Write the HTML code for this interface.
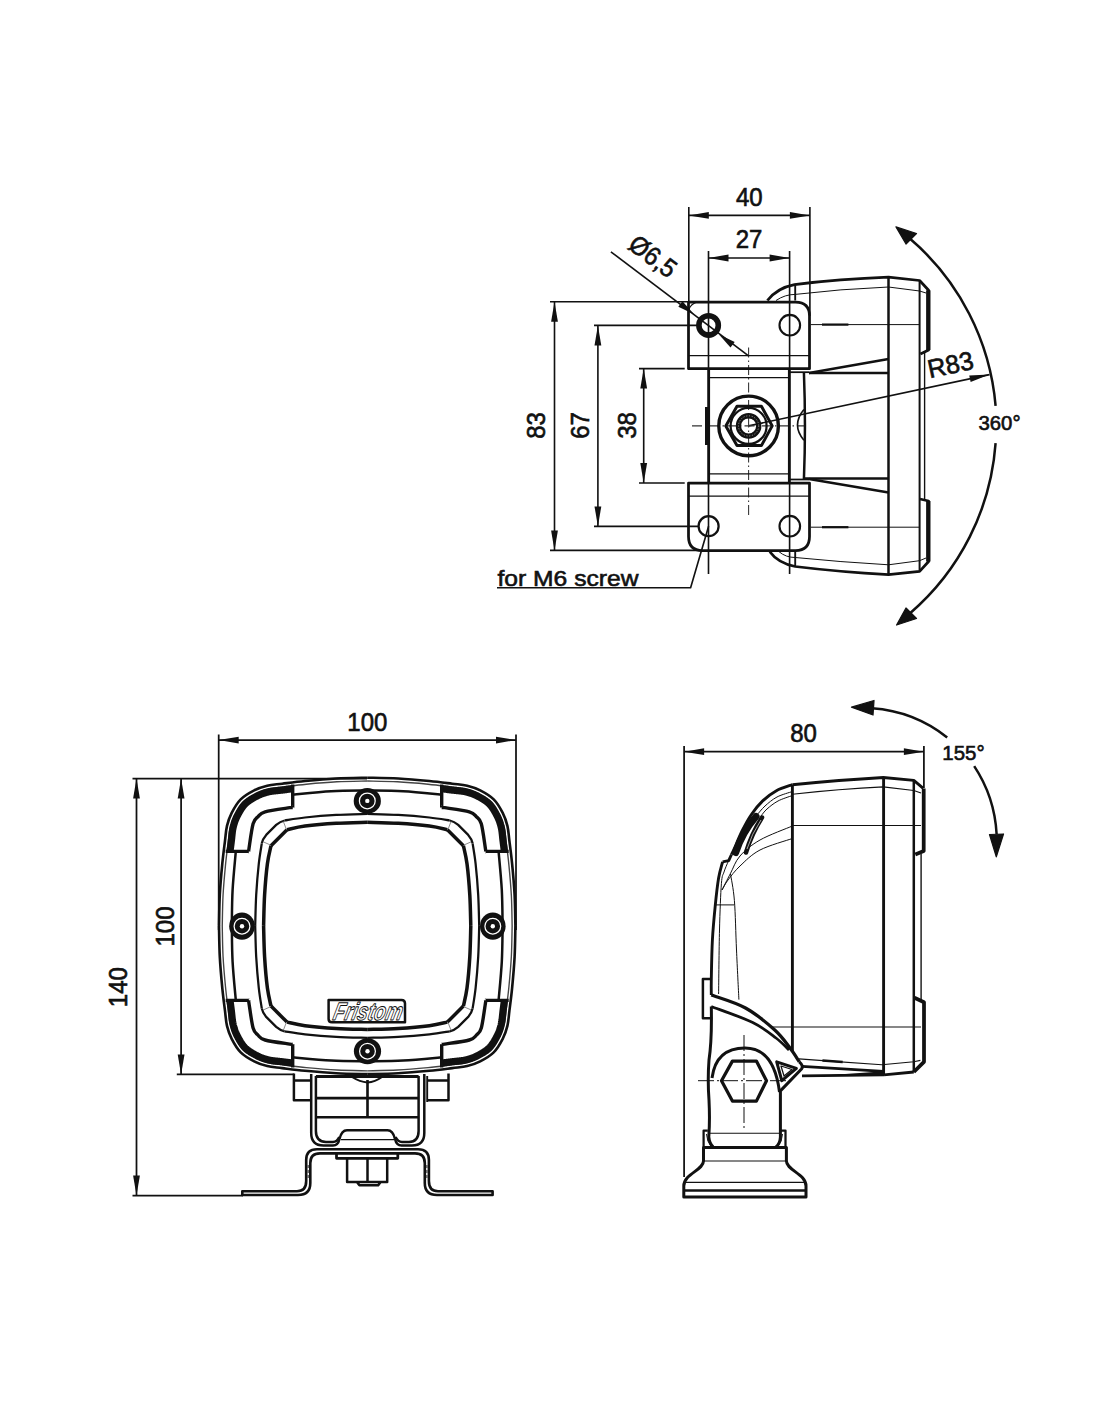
<!DOCTYPE html>
<html><head><meta charset="utf-8"><title>Drawing</title>
<style>
html,body{margin:0;padding:0;background:#fff;}
svg{display:block;}
text{font-family:"Liberation Sans",sans-serif;}
.t text{fill:#111;stroke:#111;stroke-width:0.6;}
</style></head><body>
<svg width="1100" height="1422" viewBox="0 0 1100 1422">
<defs>
<marker id="ar" markerUnits="userSpaceOnUse" viewBox="-21 -4 22 8" refX="0" refY="0" markerWidth="22" markerHeight="8" orient="auto-start-reverse"><path d="M0,0 L-20,-3.4 L-20,3.4 Z" fill="#111"/></marker>
</defs>
<rect width="1100" height="1422" fill="#fff"/>
<!-- ================= TOP VIEW ================= -->
<g id="top" fill="none" stroke="#111" stroke-linecap="butt" stroke-linejoin="round">
  <!-- dimension 40 -->
  <g stroke-width="1.62">
    <line x1="688.8" y1="207" x2="688.8" y2="302"/>
    <line x1="809.9" y1="207" x2="809.9" y2="316"/>
    <line x1="688.8" y1="215.4" x2="809.9" y2="215.4" marker-start="url(#ar)" marker-end="url(#ar)"/>
    <!-- 27 -->
    <line x1="708.5" y1="251" x2="708.5" y2="574"/>
    <line x1="789.6" y1="251" x2="789.6" y2="574"/>
    <line x1="708.5" y1="258" x2="789.6" y2="258" marker-start="url(#ar)" marker-end="url(#ar)"/>
    <!-- 83 -->
    <line x1="550" y1="301.8" x2="689" y2="301.8"/>
    <line x1="550" y1="550.4" x2="700" y2="550.4"/>
    <line x1="554.5" y1="301.8" x2="554.5" y2="550.4" marker-start="url(#ar)" marker-end="url(#ar)"/>
    <!-- 67 -->
    <line x1="594" y1="325.4" x2="699" y2="325.4"/>
    <line x1="594" y1="526.4" x2="699" y2="526.4"/>
    <line x1="597.9" y1="325.4" x2="597.9" y2="526.4" marker-start="url(#ar)" marker-end="url(#ar)"/>
    <!-- 38 -->
    <line x1="639" y1="368.6" x2="684.7" y2="368.6"/>
    <line x1="639" y1="483" x2="684.7" y2="483"/>
    <line x1="643.7" y1="368.6" x2="643.7" y2="483" marker-start="url(#ar)" marker-end="url(#ar)"/>
    <!-- for M6 screw leader -->
    <polyline points="497,587.8 690.6,587.8 708.6,526.2"/>
    <!-- diameter leader -->
    <line x1="610.9" y1="251.8" x2="748.9" y2="356.1"/>
    <!-- R83 leader -->
    <line x1="748.6" y1="425.9" x2="989.5" y2="374.6" marker-end="url(#ar)"/>
  </g>
  <path d="M0,0" />
  <!-- diameter arrows -->
  <path d="M694,314.2 L678.35,306.66 L682.45,301.24 Z" fill="#111" stroke="none"/>
  <path d="M719,334.5 L730.5,347.6 L734.7,342.0 Z" fill="#111" stroke="none"/>

  <!-- 360 arc -->
  <path d="M909.8,238.5 A248,248 0 0 1 995.6,405.8" stroke-width="2.50"/>
  <path d="M995.6,443.2 A248,248 0 0 1 909.8,613.5" stroke-width="2.50"/>
  <path d="M896,226.9 L916.5,233.5 L906,244 Z" fill="#111" stroke="#111" stroke-width="1.25"/>
  <path d="M896.6,625 L906,608 L916.5,618.5 Z" fill="#111" stroke="#111" stroke-width="1.25"/>

  <!-- center lines (dash-dot) -->
  <g stroke-width="1.06" stroke="#333">
    <line x1="748.6" y1="347.5" x2="748.6" y2="518" stroke-dasharray="10,3,1.5,3"/>
    <line x1="692" y1="425.9" x2="804" y2="425.9" stroke-dasharray="10,3,1.5,3"/>
  </g>

  <!-- top plate -->
  <path d="M688.5,368.7 L688.5,302 L795.5,302 Q809.5,302 809.5,316 L809.5,368.7 Z" stroke-width="2.75"/>
  <path d="M697,302 Q691,304 689,309" stroke-width="1.12"/>
  <line x1="688.5" y1="355.7" x2="809.5" y2="355.7" stroke-width="1.25"/>
  <circle cx="708.6" cy="325.4" r="9.7" stroke-width="5.62"/>
  <circle cx="789.8" cy="325.2" r="10.3" stroke-width="2.12"/>
  <!-- bottom plate -->
  <path d="M688.5,483 L809.5,483 L809.5,536.5 Q809.5,550.5 795.5,550.5 L702.5,550.5 Q688.5,550.5 688.5,536.5 Z" stroke-width="2.75"/>
  <line x1="688.5" y1="496.2" x2="809.5" y2="496.2" stroke-width="1.25"/>
  <circle cx="708.6" cy="526.2" r="10" stroke-width="2.25"/>
  <circle cx="789.8" cy="526.2" r="10.3" stroke-width="2.12"/>

  <!-- body -->
  <line x1="708.7" y1="368.7" x2="708.7" y2="483" stroke-width="2.75"/>
  <line x1="789.3" y1="368.7" x2="789.3" y2="483" stroke-width="2.75"/>
  <line x1="708.7" y1="377.7" x2="789.3" y2="377.7" stroke-width="1.25"/>
  <line x1="708.7" y1="473.9" x2="789.3" y2="473.9" stroke-width="1.25"/>
  <line x1="706.6" y1="407" x2="706.6" y2="445" stroke-width="3.25"/>
  <path d="M803.9,372 Q806,426 803.9,480" stroke-width="2.50"/>
  <path d="M803.9,409.5 Q791.1,425 803.9,440.2" stroke-width="1.62"/>
  <line x1="789.3" y1="372.2" x2="809" y2="372.2" stroke-width="1.75"/>
  <line x1="789.3" y1="479.5" x2="809" y2="479.5" stroke-width="1.75"/>

  <!-- nut -->
  <circle cx="748.6" cy="425.9" r="29.8" stroke-width="3.38"/>
  <polygon points="725.8,425.9 737,406.2 761.4,406.2 772.2,425.9 761.4,445.6 737,445.6" stroke-width="3.00"/>
  <circle cx="748.6" cy="425.9" r="18.0" stroke-width="2.25"/>
  <circle cx="748.6" cy="425.9" r="10.15" stroke-width="5.31"/>
  <circle cx="748.6" cy="425.9" r="10.1" stroke-width="0.50" stroke="#fff" stroke-dasharray="1.2,1.6"/>

  <!-- housing -->
  <path d="M767.4,300.5 Q777,288 794.4,284.6 Q840,279 888.5,277.2 L919.6,280.5 L928.6,290.3 L928.6,350 L920.4,354" stroke-width="2.75"/>
  <path d="M769.8,551.7 Q778,563 795.2,566.5 Q840,572 888.5,574.6 L919.6,571.4 L928.6,561.5 L928.6,501 L920,499" stroke-width="2.75"/>
  <line x1="795.2" y1="284.6" x2="795.2" y2="300.5" stroke-width="1.88"/>
  <line x1="795.2" y1="551.7" x2="795.2" y2="566.5" stroke-width="1.88"/>
  <line x1="888.5" y1="277.2" x2="888.5" y2="574.6" stroke-width="2.50"/>
  <line x1="919.6" y1="280.5" x2="919.6" y2="571.4" stroke-width="2.00"/>
  <line x1="924.6" y1="353" x2="924.6" y2="500" stroke-width="1.38"/>
  <line x1="928.3" y1="290.3" x2="928.3" y2="350" stroke-width="4.38"/>
  <line x1="928.3" y1="501" x2="928.3" y2="561.5" stroke-width="4.38"/>
  <path d="M776,300.5 Q785,294.4 795.2,294.4 Q840,289 888.5,287 L919.6,291 L926,293" stroke-width="1.00"/>
  <path d="M779,551.7 Q786,557.5 795.2,557.5 Q840,562 888.5,564.8 L919.6,560.7 L926,558" stroke-width="1.00"/>
  <line x1="810.7" y1="324.6" x2="919.6" y2="324.6" stroke-width="1.00"/>
  <line x1="822" y1="324.6" x2="848.4" y2="324.6" stroke-width="2.25"/>
  <line x1="810.7" y1="527.2" x2="919.6" y2="527.2" stroke-width="1.00"/>
  <line x1="822" y1="527.2" x2="848.4" y2="527.2" stroke-width="2.25"/>
  <!-- bracket arms -->
  <line x1="809" y1="372.9" x2="888.5" y2="372.9" stroke-width="2.50"/>
  <line x1="809" y1="372.9" x2="888.5" y2="359" stroke-width="2.50"/>
  <line x1="803.9" y1="478.4" x2="888.5" y2="478.4" stroke-width="2.50"/>
  <line x1="809" y1="479" x2="888.5" y2="492.5" stroke-width="2.50"/>
</g>



<g id="front" fill="none" stroke="#111" stroke-linejoin="round">
<g transform="translate(367.2,925.9) scale(1,1)"><path d="M0.00,-148.20 C-5.17,-148.07 -20.63,-147.95 -31.00,-147.40 C-41.37,-146.85 -53.20,-145.77 -62.20,-144.90 C-71.20,-144.03 -78.70,-142.98 -85.00,-142.20 C-91.30,-141.42 -95.33,-141.32 -100.00,-140.20 C-104.67,-139.08 -108.58,-137.78 -113.00,-135.50 C-117.42,-133.22 -122.75,-130.25 -126.50,-126.50 C-130.25,-122.75 -133.22,-117.42 -135.50,-113.00 C-137.78,-108.58 -139.08,-104.67 -140.20,-100.00 C-141.32,-95.33 -141.42,-91.30 -142.20,-85.00 C-142.98,-78.70 -144.03,-71.20 -144.90,-62.20 C-145.77,-53.20 -146.85,-41.37 -147.40,-31.00 C-147.95,-20.63 -148.07,-5.17 -148.20,0.00" stroke-width="2.62"/>
<path d="M0.00,-144.94 C-5.05,-144.81 -20.18,-144.70 -30.32,-144.16 C-40.46,-143.62 -52.03,-142.56 -60.83,-141.71 C-69.63,-140.86 -76.97,-139.84 -83.13,-139.07 C-89.29,-138.31 -93.24,-138.21 -97.80,-137.12 C-102.36,-136.02 -106.19,-134.75 -110.51,-132.52 C-114.83,-130.29 -120.05,-127.38 -123.72,-123.72 C-127.38,-120.05 -130.29,-114.83 -132.52,-110.51 C-134.75,-106.19 -136.02,-102.36 -137.12,-97.80 C-138.21,-93.24 -138.31,-89.29 -139.07,-83.13 C-139.84,-76.97 -140.86,-69.63 -141.71,-60.83 C-142.56,-52.03 -143.62,-40.46 -144.16,-30.32 C-144.70,-20.18 -144.81,-5.05 -144.94,0.00" stroke-width="1.38" stroke="#444"/>
<path d="M-73.84,-137.27 L-74.59,-137.17 L-75.32,-137.08 L-76.05,-136.99 L-76.78,-136.90 L-77.49,-136.81 L-78.20,-136.72 L-78.90,-136.63 L-79.59,-136.54 L-80.27,-136.45 L-80.95,-136.36 L-81.62,-136.28 L-82.28,-136.19 L-82.93,-136.11 L-83.58,-136.03 L-84.23,-135.95 L-84.87,-135.87 L-85.50,-135.79 L-86.12,-135.72 L-86.72,-135.66 L-87.30,-135.59 L-87.87,-135.53 L-88.43,-135.47 L-88.97,-135.42 L-89.50,-135.37 L-90.02,-135.31 L-90.52,-135.26 L-91.01,-135.21 L-91.49,-135.16 L-91.96,-135.11 L-92.42,-135.06 L-92.87,-135.01 L-93.31,-134.96 L-93.74,-134.91 L-94.16,-134.86 L-94.58,-134.80 L-94.99,-134.74 L-95.39,-134.68 L-95.79,-134.62 L-96.19,-134.55 L-96.58,-134.48 L-96.97,-134.41 L-97.36,-134.33 L-97.75,-134.25 L-98.14,-134.16 L-98.54,-134.07 L-98.97,-133.97 L-99.39,-133.86 L-99.81,-133.76 L-100.23,-133.65 L-100.64,-133.54 L-101.04,-133.43 L-101.44,-133.32 L-101.83,-133.20 L-102.22,-133.09 L-102.61,-132.97 L-102.99,-132.85 L-103.37,-132.73 L-103.74,-132.61 L-104.12,-132.48 L-104.49,-132.35 L-104.86,-132.22 L-105.23,-132.08 L-105.59,-131.94 L-105.96,-131.80 L-106.33,-131.65 L-106.70,-131.50 L-107.07,-131.34 L-107.44,-131.18 L-107.81,-131.01 L-108.19,-130.84 L-108.56,-130.67 L-108.94,-130.49 L-109.33,-130.30 L-109.72,-130.10 L-110.12,-129.90 L-110.54,-129.68 L-110.97,-129.46 L-111.40,-129.23 L-111.84,-128.99 L-112.28,-128.76 L-112.72,-128.52 L-113.16,-128.28 L-113.60,-128.03 L-114.04,-127.78 L-114.47,-127.53 L-114.91,-127.28 L-115.34,-127.02 L-115.77,-126.76 L-116.20,-126.50 L-116.62,-126.23 L-117.04,-125.96 L-117.45,-125.69 L-117.86,-125.42 L-118.26,-125.15 L-118.65,-124.87 L-119.03,-124.59 L-119.41,-124.31 L-119.78,-124.03 L-120.13,-123.75 L-120.48,-123.46 L-120.82,-123.18 L-121.14,-122.89 L-121.46,-122.61 L-121.76,-122.33 L-122.05,-122.05 L-122.33,-121.76 L-122.61,-121.46 L-122.89,-121.14 L-123.18,-120.82 L-123.46,-120.48 L-123.75,-120.13 L-124.03,-119.78 L-124.31,-119.41 L-124.59,-119.03 L-124.87,-118.65 L-125.15,-118.26 L-125.42,-117.86 L-125.69,-117.45 L-125.96,-117.04 L-126.23,-116.62 L-126.50,-116.20 L-126.76,-115.77 L-127.02,-115.34 L-127.28,-114.91 L-127.53,-114.47 L-127.78,-114.04 L-128.03,-113.60 L-128.28,-113.16 L-128.52,-112.72 L-128.76,-112.28 L-128.99,-111.84 L-129.23,-111.40 L-129.46,-110.97 L-129.68,-110.54 L-129.90,-110.12 L-130.10,-109.72 L-130.30,-109.33 L-130.49,-108.94 L-130.67,-108.56 L-130.84,-108.19 L-131.01,-107.81 L-131.18,-107.44 L-131.34,-107.07 L-131.50,-106.70 L-131.65,-106.33 L-131.80,-105.96 L-131.94,-105.59 L-132.08,-105.23 L-132.22,-104.86 L-132.35,-104.49 L-132.48,-104.12 L-132.61,-103.74 L-132.73,-103.37 L-132.85,-102.99 L-132.97,-102.61 L-133.09,-102.22 L-133.20,-101.83 L-133.32,-101.44 L-133.43,-101.04 L-133.54,-100.64 L-133.65,-100.23 L-133.76,-99.81 L-133.86,-99.39 L-133.97,-98.97 L-134.07,-98.54 L-134.16,-98.14 L-134.25,-97.75 L-134.33,-97.36 L-134.41,-96.97 L-134.48,-96.58 L-134.55,-96.19 L-134.62,-95.79 L-134.68,-95.39 L-134.74,-94.99 L-134.80,-94.58 L-134.86,-94.16 L-134.91,-93.74 L-134.96,-93.31 L-135.01,-92.87 L-135.06,-92.42 L-135.11,-91.96 L-135.16,-91.49 L-135.21,-91.01 L-135.26,-90.52 L-135.31,-90.02 L-135.37,-89.50 L-135.42,-88.97 L-135.47,-88.43 L-135.53,-87.87 L-135.59,-87.30 L-135.66,-86.72 L-135.72,-86.12 L-135.79,-85.50 L-135.87,-84.87 L-135.95,-84.23 L-136.03,-83.58 L-136.11,-82.93 L-136.19,-82.28 L-136.28,-81.62 L-136.36,-80.95 L-136.45,-80.27 L-136.54,-79.59 L-136.63,-78.90 L-136.72,-78.20 L-136.81,-77.49 L-136.90,-76.78 L-136.99,-76.05 L-137.08,-75.32 L-137.17,-74.59 L-137.27,-73.84" stroke-width="7.25"/>
<path d="M-74.50,-141.50 L-74.50,-118.40 M-74.50,-118.40 C-75.00,-118.37 -72.90,-118.92 -77.50,-118.20 C-82.10,-117.48 -96.82,-115.60 -102.10,-114.10 C-107.38,-112.60 -107.20,-111.20 -109.20,-109.20 C-111.20,-107.20 -112.60,-107.38 -114.10,-102.10 C-115.60,-96.82 -117.48,-82.10 -118.20,-77.50 C-118.92,-72.90 -118.37,-75.00 -118.40,-74.50 M-118.40,-74.50 L-141.50,-74.50" stroke-width="3.38"/>
<path d="M-75.50,-131.30 C-68.92,-131.85 -48.58,-133.92 -36.00,-134.60 C-23.42,-135.28 -6.00,-135.27 0.00,-135.40" stroke-width="2.50"/>
<path d="M-131.30,-75.50 C-131.85,-68.92 -133.92,-48.58 -134.60,-36.00 C-135.28,-23.42 -135.27,-6.00 -135.40,0.00" stroke-width="2.50"/>
<path d="M0.00,-112.00 C-5.17,-111.83 -20.63,-111.60 -31.00,-111.00 C-41.37,-110.40 -53.60,-109.33 -62.20,-108.40 C-70.80,-107.47 -79.20,-105.90 -82.60,-105.40" stroke-width="2.25"/>
<path d="M-105.40,-82.60 C-105.90,-79.20 -107.47,-70.80 -108.40,-62.20 C-109.33,-53.60 -110.40,-41.37 -111.00,-31.00 C-111.60,-20.63 -111.83,-5.17 -112.00,0.00" stroke-width="2.25"/>
<path d="M-82.6,-105.4 Q-87,-104.5 -91,-101 L-101,-91 Q-104.5,-87 -105.4,-82.6" stroke-width="2.25"/>
<path d="M0.00,-103.60 C-5.17,-103.43 -20.63,-103.23 -31.00,-102.60 C-41.37,-101.97 -54.00,-100.87 -62.20,-99.80 C-70.40,-98.73 -77.20,-96.80 -80.20,-96.20" stroke-width="3.50"/>
<path d="M-96.20,-80.20 C-96.80,-77.20 -98.73,-70.40 -99.80,-62.20 C-100.87,-54.00 -101.97,-41.37 -102.60,-31.00 C-103.23,-20.63 -103.43,-5.17 -103.60,0.00" stroke-width="3.50"/>
<path d="M-80.2,-96.2 L-96.2,-80.2" stroke-width="3.50"/>
<path d="M-84,-104.8 L-81,-97 M-103.8,-84 L-97,-81" stroke-width="0.75" stroke="#666"/></g>
<g transform="translate(367.2,925.9) scale(-1,1)"><path d="M0.00,-148.20 C-5.17,-148.07 -20.63,-147.95 -31.00,-147.40 C-41.37,-146.85 -53.20,-145.77 -62.20,-144.90 C-71.20,-144.03 -78.70,-142.98 -85.00,-142.20 C-91.30,-141.42 -95.33,-141.32 -100.00,-140.20 C-104.67,-139.08 -108.58,-137.78 -113.00,-135.50 C-117.42,-133.22 -122.75,-130.25 -126.50,-126.50 C-130.25,-122.75 -133.22,-117.42 -135.50,-113.00 C-137.78,-108.58 -139.08,-104.67 -140.20,-100.00 C-141.32,-95.33 -141.42,-91.30 -142.20,-85.00 C-142.98,-78.70 -144.03,-71.20 -144.90,-62.20 C-145.77,-53.20 -146.85,-41.37 -147.40,-31.00 C-147.95,-20.63 -148.07,-5.17 -148.20,0.00" stroke-width="2.62"/>
<path d="M0.00,-144.94 C-5.05,-144.81 -20.18,-144.70 -30.32,-144.16 C-40.46,-143.62 -52.03,-142.56 -60.83,-141.71 C-69.63,-140.86 -76.97,-139.84 -83.13,-139.07 C-89.29,-138.31 -93.24,-138.21 -97.80,-137.12 C-102.36,-136.02 -106.19,-134.75 -110.51,-132.52 C-114.83,-130.29 -120.05,-127.38 -123.72,-123.72 C-127.38,-120.05 -130.29,-114.83 -132.52,-110.51 C-134.75,-106.19 -136.02,-102.36 -137.12,-97.80 C-138.21,-93.24 -138.31,-89.29 -139.07,-83.13 C-139.84,-76.97 -140.86,-69.63 -141.71,-60.83 C-142.56,-52.03 -143.62,-40.46 -144.16,-30.32 C-144.70,-20.18 -144.81,-5.05 -144.94,0.00" stroke-width="1.38" stroke="#444"/>
<path d="M-73.84,-137.27 L-74.59,-137.17 L-75.32,-137.08 L-76.05,-136.99 L-76.78,-136.90 L-77.49,-136.81 L-78.20,-136.72 L-78.90,-136.63 L-79.59,-136.54 L-80.27,-136.45 L-80.95,-136.36 L-81.62,-136.28 L-82.28,-136.19 L-82.93,-136.11 L-83.58,-136.03 L-84.23,-135.95 L-84.87,-135.87 L-85.50,-135.79 L-86.12,-135.72 L-86.72,-135.66 L-87.30,-135.59 L-87.87,-135.53 L-88.43,-135.47 L-88.97,-135.42 L-89.50,-135.37 L-90.02,-135.31 L-90.52,-135.26 L-91.01,-135.21 L-91.49,-135.16 L-91.96,-135.11 L-92.42,-135.06 L-92.87,-135.01 L-93.31,-134.96 L-93.74,-134.91 L-94.16,-134.86 L-94.58,-134.80 L-94.99,-134.74 L-95.39,-134.68 L-95.79,-134.62 L-96.19,-134.55 L-96.58,-134.48 L-96.97,-134.41 L-97.36,-134.33 L-97.75,-134.25 L-98.14,-134.16 L-98.54,-134.07 L-98.97,-133.97 L-99.39,-133.86 L-99.81,-133.76 L-100.23,-133.65 L-100.64,-133.54 L-101.04,-133.43 L-101.44,-133.32 L-101.83,-133.20 L-102.22,-133.09 L-102.61,-132.97 L-102.99,-132.85 L-103.37,-132.73 L-103.74,-132.61 L-104.12,-132.48 L-104.49,-132.35 L-104.86,-132.22 L-105.23,-132.08 L-105.59,-131.94 L-105.96,-131.80 L-106.33,-131.65 L-106.70,-131.50 L-107.07,-131.34 L-107.44,-131.18 L-107.81,-131.01 L-108.19,-130.84 L-108.56,-130.67 L-108.94,-130.49 L-109.33,-130.30 L-109.72,-130.10 L-110.12,-129.90 L-110.54,-129.68 L-110.97,-129.46 L-111.40,-129.23 L-111.84,-128.99 L-112.28,-128.76 L-112.72,-128.52 L-113.16,-128.28 L-113.60,-128.03 L-114.04,-127.78 L-114.47,-127.53 L-114.91,-127.28 L-115.34,-127.02 L-115.77,-126.76 L-116.20,-126.50 L-116.62,-126.23 L-117.04,-125.96 L-117.45,-125.69 L-117.86,-125.42 L-118.26,-125.15 L-118.65,-124.87 L-119.03,-124.59 L-119.41,-124.31 L-119.78,-124.03 L-120.13,-123.75 L-120.48,-123.46 L-120.82,-123.18 L-121.14,-122.89 L-121.46,-122.61 L-121.76,-122.33 L-122.05,-122.05 L-122.33,-121.76 L-122.61,-121.46 L-122.89,-121.14 L-123.18,-120.82 L-123.46,-120.48 L-123.75,-120.13 L-124.03,-119.78 L-124.31,-119.41 L-124.59,-119.03 L-124.87,-118.65 L-125.15,-118.26 L-125.42,-117.86 L-125.69,-117.45 L-125.96,-117.04 L-126.23,-116.62 L-126.50,-116.20 L-126.76,-115.77 L-127.02,-115.34 L-127.28,-114.91 L-127.53,-114.47 L-127.78,-114.04 L-128.03,-113.60 L-128.28,-113.16 L-128.52,-112.72 L-128.76,-112.28 L-128.99,-111.84 L-129.23,-111.40 L-129.46,-110.97 L-129.68,-110.54 L-129.90,-110.12 L-130.10,-109.72 L-130.30,-109.33 L-130.49,-108.94 L-130.67,-108.56 L-130.84,-108.19 L-131.01,-107.81 L-131.18,-107.44 L-131.34,-107.07 L-131.50,-106.70 L-131.65,-106.33 L-131.80,-105.96 L-131.94,-105.59 L-132.08,-105.23 L-132.22,-104.86 L-132.35,-104.49 L-132.48,-104.12 L-132.61,-103.74 L-132.73,-103.37 L-132.85,-102.99 L-132.97,-102.61 L-133.09,-102.22 L-133.20,-101.83 L-133.32,-101.44 L-133.43,-101.04 L-133.54,-100.64 L-133.65,-100.23 L-133.76,-99.81 L-133.86,-99.39 L-133.97,-98.97 L-134.07,-98.54 L-134.16,-98.14 L-134.25,-97.75 L-134.33,-97.36 L-134.41,-96.97 L-134.48,-96.58 L-134.55,-96.19 L-134.62,-95.79 L-134.68,-95.39 L-134.74,-94.99 L-134.80,-94.58 L-134.86,-94.16 L-134.91,-93.74 L-134.96,-93.31 L-135.01,-92.87 L-135.06,-92.42 L-135.11,-91.96 L-135.16,-91.49 L-135.21,-91.01 L-135.26,-90.52 L-135.31,-90.02 L-135.37,-89.50 L-135.42,-88.97 L-135.47,-88.43 L-135.53,-87.87 L-135.59,-87.30 L-135.66,-86.72 L-135.72,-86.12 L-135.79,-85.50 L-135.87,-84.87 L-135.95,-84.23 L-136.03,-83.58 L-136.11,-82.93 L-136.19,-82.28 L-136.28,-81.62 L-136.36,-80.95 L-136.45,-80.27 L-136.54,-79.59 L-136.63,-78.90 L-136.72,-78.20 L-136.81,-77.49 L-136.90,-76.78 L-136.99,-76.05 L-137.08,-75.32 L-137.17,-74.59 L-137.27,-73.84" stroke-width="7.25"/>
<path d="M-74.50,-141.50 L-74.50,-118.40 M-74.50,-118.40 C-75.00,-118.37 -72.90,-118.92 -77.50,-118.20 C-82.10,-117.48 -96.82,-115.60 -102.10,-114.10 C-107.38,-112.60 -107.20,-111.20 -109.20,-109.20 C-111.20,-107.20 -112.60,-107.38 -114.10,-102.10 C-115.60,-96.82 -117.48,-82.10 -118.20,-77.50 C-118.92,-72.90 -118.37,-75.00 -118.40,-74.50 M-118.40,-74.50 L-141.50,-74.50" stroke-width="3.38"/>
<path d="M-75.50,-131.30 C-68.92,-131.85 -48.58,-133.92 -36.00,-134.60 C-23.42,-135.28 -6.00,-135.27 0.00,-135.40" stroke-width="2.50"/>
<path d="M-131.30,-75.50 C-131.85,-68.92 -133.92,-48.58 -134.60,-36.00 C-135.28,-23.42 -135.27,-6.00 -135.40,0.00" stroke-width="2.50"/>
<path d="M0.00,-112.00 C-5.17,-111.83 -20.63,-111.60 -31.00,-111.00 C-41.37,-110.40 -53.60,-109.33 -62.20,-108.40 C-70.80,-107.47 -79.20,-105.90 -82.60,-105.40" stroke-width="2.25"/>
<path d="M-105.40,-82.60 C-105.90,-79.20 -107.47,-70.80 -108.40,-62.20 C-109.33,-53.60 -110.40,-41.37 -111.00,-31.00 C-111.60,-20.63 -111.83,-5.17 -112.00,0.00" stroke-width="2.25"/>
<path d="M-82.6,-105.4 Q-87,-104.5 -91,-101 L-101,-91 Q-104.5,-87 -105.4,-82.6" stroke-width="2.25"/>
<path d="M0.00,-103.60 C-5.17,-103.43 -20.63,-103.23 -31.00,-102.60 C-41.37,-101.97 -54.00,-100.87 -62.20,-99.80 C-70.40,-98.73 -77.20,-96.80 -80.20,-96.20" stroke-width="3.50"/>
<path d="M-96.20,-80.20 C-96.80,-77.20 -98.73,-70.40 -99.80,-62.20 C-100.87,-54.00 -101.97,-41.37 -102.60,-31.00 C-103.23,-20.63 -103.43,-5.17 -103.60,0.00" stroke-width="3.50"/>
<path d="M-80.2,-96.2 L-96.2,-80.2" stroke-width="3.50"/>
<path d="M-84,-104.8 L-81,-97 M-103.8,-84 L-97,-81" stroke-width="0.75" stroke="#666"/></g>
<g transform="translate(367.2,925.9) scale(1,-1)"><path d="M0.00,-148.20 C-5.17,-148.07 -20.63,-147.95 -31.00,-147.40 C-41.37,-146.85 -53.20,-145.77 -62.20,-144.90 C-71.20,-144.03 -78.70,-142.98 -85.00,-142.20 C-91.30,-141.42 -95.33,-141.32 -100.00,-140.20 C-104.67,-139.08 -108.58,-137.78 -113.00,-135.50 C-117.42,-133.22 -122.75,-130.25 -126.50,-126.50 C-130.25,-122.75 -133.22,-117.42 -135.50,-113.00 C-137.78,-108.58 -139.08,-104.67 -140.20,-100.00 C-141.32,-95.33 -141.42,-91.30 -142.20,-85.00 C-142.98,-78.70 -144.03,-71.20 -144.90,-62.20 C-145.77,-53.20 -146.85,-41.37 -147.40,-31.00 C-147.95,-20.63 -148.07,-5.17 -148.20,0.00" stroke-width="2.62"/>
<path d="M0.00,-144.94 C-5.05,-144.81 -20.18,-144.70 -30.32,-144.16 C-40.46,-143.62 -52.03,-142.56 -60.83,-141.71 C-69.63,-140.86 -76.97,-139.84 -83.13,-139.07 C-89.29,-138.31 -93.24,-138.21 -97.80,-137.12 C-102.36,-136.02 -106.19,-134.75 -110.51,-132.52 C-114.83,-130.29 -120.05,-127.38 -123.72,-123.72 C-127.38,-120.05 -130.29,-114.83 -132.52,-110.51 C-134.75,-106.19 -136.02,-102.36 -137.12,-97.80 C-138.21,-93.24 -138.31,-89.29 -139.07,-83.13 C-139.84,-76.97 -140.86,-69.63 -141.71,-60.83 C-142.56,-52.03 -143.62,-40.46 -144.16,-30.32 C-144.70,-20.18 -144.81,-5.05 -144.94,0.00" stroke-width="1.38" stroke="#444"/>
<path d="M-73.84,-137.27 L-74.59,-137.17 L-75.32,-137.08 L-76.05,-136.99 L-76.78,-136.90 L-77.49,-136.81 L-78.20,-136.72 L-78.90,-136.63 L-79.59,-136.54 L-80.27,-136.45 L-80.95,-136.36 L-81.62,-136.28 L-82.28,-136.19 L-82.93,-136.11 L-83.58,-136.03 L-84.23,-135.95 L-84.87,-135.87 L-85.50,-135.79 L-86.12,-135.72 L-86.72,-135.66 L-87.30,-135.59 L-87.87,-135.53 L-88.43,-135.47 L-88.97,-135.42 L-89.50,-135.37 L-90.02,-135.31 L-90.52,-135.26 L-91.01,-135.21 L-91.49,-135.16 L-91.96,-135.11 L-92.42,-135.06 L-92.87,-135.01 L-93.31,-134.96 L-93.74,-134.91 L-94.16,-134.86 L-94.58,-134.80 L-94.99,-134.74 L-95.39,-134.68 L-95.79,-134.62 L-96.19,-134.55 L-96.58,-134.48 L-96.97,-134.41 L-97.36,-134.33 L-97.75,-134.25 L-98.14,-134.16 L-98.54,-134.07 L-98.97,-133.97 L-99.39,-133.86 L-99.81,-133.76 L-100.23,-133.65 L-100.64,-133.54 L-101.04,-133.43 L-101.44,-133.32 L-101.83,-133.20 L-102.22,-133.09 L-102.61,-132.97 L-102.99,-132.85 L-103.37,-132.73 L-103.74,-132.61 L-104.12,-132.48 L-104.49,-132.35 L-104.86,-132.22 L-105.23,-132.08 L-105.59,-131.94 L-105.96,-131.80 L-106.33,-131.65 L-106.70,-131.50 L-107.07,-131.34 L-107.44,-131.18 L-107.81,-131.01 L-108.19,-130.84 L-108.56,-130.67 L-108.94,-130.49 L-109.33,-130.30 L-109.72,-130.10 L-110.12,-129.90 L-110.54,-129.68 L-110.97,-129.46 L-111.40,-129.23 L-111.84,-128.99 L-112.28,-128.76 L-112.72,-128.52 L-113.16,-128.28 L-113.60,-128.03 L-114.04,-127.78 L-114.47,-127.53 L-114.91,-127.28 L-115.34,-127.02 L-115.77,-126.76 L-116.20,-126.50 L-116.62,-126.23 L-117.04,-125.96 L-117.45,-125.69 L-117.86,-125.42 L-118.26,-125.15 L-118.65,-124.87 L-119.03,-124.59 L-119.41,-124.31 L-119.78,-124.03 L-120.13,-123.75 L-120.48,-123.46 L-120.82,-123.18 L-121.14,-122.89 L-121.46,-122.61 L-121.76,-122.33 L-122.05,-122.05 L-122.33,-121.76 L-122.61,-121.46 L-122.89,-121.14 L-123.18,-120.82 L-123.46,-120.48 L-123.75,-120.13 L-124.03,-119.78 L-124.31,-119.41 L-124.59,-119.03 L-124.87,-118.65 L-125.15,-118.26 L-125.42,-117.86 L-125.69,-117.45 L-125.96,-117.04 L-126.23,-116.62 L-126.50,-116.20 L-126.76,-115.77 L-127.02,-115.34 L-127.28,-114.91 L-127.53,-114.47 L-127.78,-114.04 L-128.03,-113.60 L-128.28,-113.16 L-128.52,-112.72 L-128.76,-112.28 L-128.99,-111.84 L-129.23,-111.40 L-129.46,-110.97 L-129.68,-110.54 L-129.90,-110.12 L-130.10,-109.72 L-130.30,-109.33 L-130.49,-108.94 L-130.67,-108.56 L-130.84,-108.19 L-131.01,-107.81 L-131.18,-107.44 L-131.34,-107.07 L-131.50,-106.70 L-131.65,-106.33 L-131.80,-105.96 L-131.94,-105.59 L-132.08,-105.23 L-132.22,-104.86 L-132.35,-104.49 L-132.48,-104.12 L-132.61,-103.74 L-132.73,-103.37 L-132.85,-102.99 L-132.97,-102.61 L-133.09,-102.22 L-133.20,-101.83 L-133.32,-101.44 L-133.43,-101.04 L-133.54,-100.64 L-133.65,-100.23 L-133.76,-99.81 L-133.86,-99.39 L-133.97,-98.97 L-134.07,-98.54 L-134.16,-98.14 L-134.25,-97.75 L-134.33,-97.36 L-134.41,-96.97 L-134.48,-96.58 L-134.55,-96.19 L-134.62,-95.79 L-134.68,-95.39 L-134.74,-94.99 L-134.80,-94.58 L-134.86,-94.16 L-134.91,-93.74 L-134.96,-93.31 L-135.01,-92.87 L-135.06,-92.42 L-135.11,-91.96 L-135.16,-91.49 L-135.21,-91.01 L-135.26,-90.52 L-135.31,-90.02 L-135.37,-89.50 L-135.42,-88.97 L-135.47,-88.43 L-135.53,-87.87 L-135.59,-87.30 L-135.66,-86.72 L-135.72,-86.12 L-135.79,-85.50 L-135.87,-84.87 L-135.95,-84.23 L-136.03,-83.58 L-136.11,-82.93 L-136.19,-82.28 L-136.28,-81.62 L-136.36,-80.95 L-136.45,-80.27 L-136.54,-79.59 L-136.63,-78.90 L-136.72,-78.20 L-136.81,-77.49 L-136.90,-76.78 L-136.99,-76.05 L-137.08,-75.32 L-137.17,-74.59 L-137.27,-73.84" stroke-width="7.25"/>
<path d="M-74.50,-141.50 L-74.50,-118.40 M-74.50,-118.40 C-75.00,-118.37 -72.90,-118.92 -77.50,-118.20 C-82.10,-117.48 -96.82,-115.60 -102.10,-114.10 C-107.38,-112.60 -107.20,-111.20 -109.20,-109.20 C-111.20,-107.20 -112.60,-107.38 -114.10,-102.10 C-115.60,-96.82 -117.48,-82.10 -118.20,-77.50 C-118.92,-72.90 -118.37,-75.00 -118.40,-74.50 M-118.40,-74.50 L-141.50,-74.50" stroke-width="3.38"/>
<path d="M-75.50,-131.30 C-68.92,-131.85 -48.58,-133.92 -36.00,-134.60 C-23.42,-135.28 -6.00,-135.27 0.00,-135.40" stroke-width="2.50"/>
<path d="M-131.30,-75.50 C-131.85,-68.92 -133.92,-48.58 -134.60,-36.00 C-135.28,-23.42 -135.27,-6.00 -135.40,0.00" stroke-width="2.50"/>
<path d="M0.00,-112.00 C-5.17,-111.83 -20.63,-111.60 -31.00,-111.00 C-41.37,-110.40 -53.60,-109.33 -62.20,-108.40 C-70.80,-107.47 -79.20,-105.90 -82.60,-105.40" stroke-width="2.25"/>
<path d="M-105.40,-82.60 C-105.90,-79.20 -107.47,-70.80 -108.40,-62.20 C-109.33,-53.60 -110.40,-41.37 -111.00,-31.00 C-111.60,-20.63 -111.83,-5.17 -112.00,0.00" stroke-width="2.25"/>
<path d="M-82.6,-105.4 Q-87,-104.5 -91,-101 L-101,-91 Q-104.5,-87 -105.4,-82.6" stroke-width="2.25"/>
<path d="M0.00,-103.60 C-5.17,-103.43 -20.63,-103.23 -31.00,-102.60 C-41.37,-101.97 -54.00,-100.87 -62.20,-99.80 C-70.40,-98.73 -77.20,-96.80 -80.20,-96.20" stroke-width="3.50"/>
<path d="M-96.20,-80.20 C-96.80,-77.20 -98.73,-70.40 -99.80,-62.20 C-100.87,-54.00 -101.97,-41.37 -102.60,-31.00 C-103.23,-20.63 -103.43,-5.17 -103.60,0.00" stroke-width="3.50"/>
<path d="M-80.2,-96.2 L-96.2,-80.2" stroke-width="3.50"/>
<path d="M-84,-104.8 L-81,-97 M-103.8,-84 L-97,-81" stroke-width="0.75" stroke="#666"/></g>
<g transform="translate(367.2,925.9) scale(-1,-1)"><path d="M0.00,-148.20 C-5.17,-148.07 -20.63,-147.95 -31.00,-147.40 C-41.37,-146.85 -53.20,-145.77 -62.20,-144.90 C-71.20,-144.03 -78.70,-142.98 -85.00,-142.20 C-91.30,-141.42 -95.33,-141.32 -100.00,-140.20 C-104.67,-139.08 -108.58,-137.78 -113.00,-135.50 C-117.42,-133.22 -122.75,-130.25 -126.50,-126.50 C-130.25,-122.75 -133.22,-117.42 -135.50,-113.00 C-137.78,-108.58 -139.08,-104.67 -140.20,-100.00 C-141.32,-95.33 -141.42,-91.30 -142.20,-85.00 C-142.98,-78.70 -144.03,-71.20 -144.90,-62.20 C-145.77,-53.20 -146.85,-41.37 -147.40,-31.00 C-147.95,-20.63 -148.07,-5.17 -148.20,0.00" stroke-width="2.62"/>
<path d="M0.00,-144.94 C-5.05,-144.81 -20.18,-144.70 -30.32,-144.16 C-40.46,-143.62 -52.03,-142.56 -60.83,-141.71 C-69.63,-140.86 -76.97,-139.84 -83.13,-139.07 C-89.29,-138.31 -93.24,-138.21 -97.80,-137.12 C-102.36,-136.02 -106.19,-134.75 -110.51,-132.52 C-114.83,-130.29 -120.05,-127.38 -123.72,-123.72 C-127.38,-120.05 -130.29,-114.83 -132.52,-110.51 C-134.75,-106.19 -136.02,-102.36 -137.12,-97.80 C-138.21,-93.24 -138.31,-89.29 -139.07,-83.13 C-139.84,-76.97 -140.86,-69.63 -141.71,-60.83 C-142.56,-52.03 -143.62,-40.46 -144.16,-30.32 C-144.70,-20.18 -144.81,-5.05 -144.94,0.00" stroke-width="1.38" stroke="#444"/>
<path d="M-73.84,-137.27 L-74.59,-137.17 L-75.32,-137.08 L-76.05,-136.99 L-76.78,-136.90 L-77.49,-136.81 L-78.20,-136.72 L-78.90,-136.63 L-79.59,-136.54 L-80.27,-136.45 L-80.95,-136.36 L-81.62,-136.28 L-82.28,-136.19 L-82.93,-136.11 L-83.58,-136.03 L-84.23,-135.95 L-84.87,-135.87 L-85.50,-135.79 L-86.12,-135.72 L-86.72,-135.66 L-87.30,-135.59 L-87.87,-135.53 L-88.43,-135.47 L-88.97,-135.42 L-89.50,-135.37 L-90.02,-135.31 L-90.52,-135.26 L-91.01,-135.21 L-91.49,-135.16 L-91.96,-135.11 L-92.42,-135.06 L-92.87,-135.01 L-93.31,-134.96 L-93.74,-134.91 L-94.16,-134.86 L-94.58,-134.80 L-94.99,-134.74 L-95.39,-134.68 L-95.79,-134.62 L-96.19,-134.55 L-96.58,-134.48 L-96.97,-134.41 L-97.36,-134.33 L-97.75,-134.25 L-98.14,-134.16 L-98.54,-134.07 L-98.97,-133.97 L-99.39,-133.86 L-99.81,-133.76 L-100.23,-133.65 L-100.64,-133.54 L-101.04,-133.43 L-101.44,-133.32 L-101.83,-133.20 L-102.22,-133.09 L-102.61,-132.97 L-102.99,-132.85 L-103.37,-132.73 L-103.74,-132.61 L-104.12,-132.48 L-104.49,-132.35 L-104.86,-132.22 L-105.23,-132.08 L-105.59,-131.94 L-105.96,-131.80 L-106.33,-131.65 L-106.70,-131.50 L-107.07,-131.34 L-107.44,-131.18 L-107.81,-131.01 L-108.19,-130.84 L-108.56,-130.67 L-108.94,-130.49 L-109.33,-130.30 L-109.72,-130.10 L-110.12,-129.90 L-110.54,-129.68 L-110.97,-129.46 L-111.40,-129.23 L-111.84,-128.99 L-112.28,-128.76 L-112.72,-128.52 L-113.16,-128.28 L-113.60,-128.03 L-114.04,-127.78 L-114.47,-127.53 L-114.91,-127.28 L-115.34,-127.02 L-115.77,-126.76 L-116.20,-126.50 L-116.62,-126.23 L-117.04,-125.96 L-117.45,-125.69 L-117.86,-125.42 L-118.26,-125.15 L-118.65,-124.87 L-119.03,-124.59 L-119.41,-124.31 L-119.78,-124.03 L-120.13,-123.75 L-120.48,-123.46 L-120.82,-123.18 L-121.14,-122.89 L-121.46,-122.61 L-121.76,-122.33 L-122.05,-122.05 L-122.33,-121.76 L-122.61,-121.46 L-122.89,-121.14 L-123.18,-120.82 L-123.46,-120.48 L-123.75,-120.13 L-124.03,-119.78 L-124.31,-119.41 L-124.59,-119.03 L-124.87,-118.65 L-125.15,-118.26 L-125.42,-117.86 L-125.69,-117.45 L-125.96,-117.04 L-126.23,-116.62 L-126.50,-116.20 L-126.76,-115.77 L-127.02,-115.34 L-127.28,-114.91 L-127.53,-114.47 L-127.78,-114.04 L-128.03,-113.60 L-128.28,-113.16 L-128.52,-112.72 L-128.76,-112.28 L-128.99,-111.84 L-129.23,-111.40 L-129.46,-110.97 L-129.68,-110.54 L-129.90,-110.12 L-130.10,-109.72 L-130.30,-109.33 L-130.49,-108.94 L-130.67,-108.56 L-130.84,-108.19 L-131.01,-107.81 L-131.18,-107.44 L-131.34,-107.07 L-131.50,-106.70 L-131.65,-106.33 L-131.80,-105.96 L-131.94,-105.59 L-132.08,-105.23 L-132.22,-104.86 L-132.35,-104.49 L-132.48,-104.12 L-132.61,-103.74 L-132.73,-103.37 L-132.85,-102.99 L-132.97,-102.61 L-133.09,-102.22 L-133.20,-101.83 L-133.32,-101.44 L-133.43,-101.04 L-133.54,-100.64 L-133.65,-100.23 L-133.76,-99.81 L-133.86,-99.39 L-133.97,-98.97 L-134.07,-98.54 L-134.16,-98.14 L-134.25,-97.75 L-134.33,-97.36 L-134.41,-96.97 L-134.48,-96.58 L-134.55,-96.19 L-134.62,-95.79 L-134.68,-95.39 L-134.74,-94.99 L-134.80,-94.58 L-134.86,-94.16 L-134.91,-93.74 L-134.96,-93.31 L-135.01,-92.87 L-135.06,-92.42 L-135.11,-91.96 L-135.16,-91.49 L-135.21,-91.01 L-135.26,-90.52 L-135.31,-90.02 L-135.37,-89.50 L-135.42,-88.97 L-135.47,-88.43 L-135.53,-87.87 L-135.59,-87.30 L-135.66,-86.72 L-135.72,-86.12 L-135.79,-85.50 L-135.87,-84.87 L-135.95,-84.23 L-136.03,-83.58 L-136.11,-82.93 L-136.19,-82.28 L-136.28,-81.62 L-136.36,-80.95 L-136.45,-80.27 L-136.54,-79.59 L-136.63,-78.90 L-136.72,-78.20 L-136.81,-77.49 L-136.90,-76.78 L-136.99,-76.05 L-137.08,-75.32 L-137.17,-74.59 L-137.27,-73.84" stroke-width="7.25"/>
<path d="M-74.50,-141.50 L-74.50,-118.40 M-74.50,-118.40 C-75.00,-118.37 -72.90,-118.92 -77.50,-118.20 C-82.10,-117.48 -96.82,-115.60 -102.10,-114.10 C-107.38,-112.60 -107.20,-111.20 -109.20,-109.20 C-111.20,-107.20 -112.60,-107.38 -114.10,-102.10 C-115.60,-96.82 -117.48,-82.10 -118.20,-77.50 C-118.92,-72.90 -118.37,-75.00 -118.40,-74.50 M-118.40,-74.50 L-141.50,-74.50" stroke-width="3.38"/>
<path d="M-75.50,-131.30 C-68.92,-131.85 -48.58,-133.92 -36.00,-134.60 C-23.42,-135.28 -6.00,-135.27 0.00,-135.40" stroke-width="2.50"/>
<path d="M-131.30,-75.50 C-131.85,-68.92 -133.92,-48.58 -134.60,-36.00 C-135.28,-23.42 -135.27,-6.00 -135.40,0.00" stroke-width="2.50"/>
<path d="M0.00,-112.00 C-5.17,-111.83 -20.63,-111.60 -31.00,-111.00 C-41.37,-110.40 -53.60,-109.33 -62.20,-108.40 C-70.80,-107.47 -79.20,-105.90 -82.60,-105.40" stroke-width="2.25"/>
<path d="M-105.40,-82.60 C-105.90,-79.20 -107.47,-70.80 -108.40,-62.20 C-109.33,-53.60 -110.40,-41.37 -111.00,-31.00 C-111.60,-20.63 -111.83,-5.17 -112.00,0.00" stroke-width="2.25"/>
<path d="M-82.6,-105.4 Q-87,-104.5 -91,-101 L-101,-91 Q-104.5,-87 -105.4,-82.6" stroke-width="2.25"/>
<path d="M0.00,-103.60 C-5.17,-103.43 -20.63,-103.23 -31.00,-102.60 C-41.37,-101.97 -54.00,-100.87 -62.20,-99.80 C-70.40,-98.73 -77.20,-96.80 -80.20,-96.20" stroke-width="3.50"/>
<path d="M-96.20,-80.20 C-96.80,-77.20 -98.73,-70.40 -99.80,-62.20 C-100.87,-54.00 -101.97,-41.37 -102.60,-31.00 C-103.23,-20.63 -103.43,-5.17 -103.60,0.00" stroke-width="3.50"/>
<path d="M-80.2,-96.2 L-96.2,-80.2" stroke-width="3.50"/>
<path d="M-84,-104.8 L-81,-97 M-103.8,-84 L-97,-81" stroke-width="0.75" stroke="#666"/></g>
<ellipse cx="367.3" cy="800.9" rx="13.6" ry="13.0" fill="#111" stroke="none"/><circle cx="367.3" cy="800.9" r="7.9" fill="none" stroke="#fff" stroke-width="1.25"/><circle cx="367.3" cy="800.9" r="2.2" fill="#fff" stroke="none"/>
<ellipse cx="367.5" cy="1051.2" rx="13.6" ry="13.0" fill="#111" stroke="none"/><circle cx="367.5" cy="1051.2" r="7.9" fill="none" stroke="#fff" stroke-width="1.25"/><circle cx="367.5" cy="1051.2" r="2.2" fill="#fff" stroke="none"/>
<ellipse cx="242.0" cy="926.2" rx="12.8" ry="13.6" fill="#111" stroke="none"/><circle cx="242.0" cy="926.2" r="7.9" fill="none" stroke="#fff" stroke-width="1.25"/><circle cx="242.0" cy="926.2" r="2.2" fill="#fff" stroke="none"/>
<ellipse cx="492.8" cy="926.2" rx="12.8" ry="13.6" fill="#111" stroke="none"/><circle cx="492.8" cy="926.2" r="7.9" fill="none" stroke="#fff" stroke-width="1.25"/><circle cx="492.8" cy="926.2" r="2.2" fill="#fff" stroke="none"/>
<path d="M328.6,1000 L401.5,1000 Q405,1000 405,1003.5 L405,1022.3 L332,1022.3 Q328.6,1022.3 328.6,1019 Z" fill="#fff" stroke="#111" stroke-width="2.50"/>
<text transform="translate(332,1019.8) skewX(-13)" x="0" y="0" font-size="25" font-weight="bold" font-style="italic" textLength="69" lengthAdjust="spacingAndGlyphs" fill="#fff" stroke="#111" stroke-width="1.00" style="font-family:'Liberation Sans',sans-serif">Fristom</text>
<g stroke-width="2.50">
<path d="M293.9,1073.5 V1100.2 H311.2 M293.9,1080.5 H311.2"/>
<path d="M448.5,1073.5 V1100.2 H427.2 M448.5,1080.5 H427.2"/>
<path d="M427.2,1076 V1102" stroke-width="1.88"/>
<path d="M311.2,1074 V1133 Q311.2,1145.5 323.5,1145.5 H333 Q338,1145.5 339.5,1139 Q341.5,1130.2 347,1130.2 H387.5 Q393,1130.2 395,1139 Q396.5,1145.5 401.5,1145.5 H412 Q424.3,1145.5 424.3,1133 V1074" stroke-width="2.50"/>
<path d="M315.9,1076 V1131 Q315.9,1141.9 326,1141.9 H333 Q337,1141.9 339.3,1137" stroke-width="2.50"/>
<path d="M418.6,1076 V1131 Q418.6,1141.9 409,1141.9 H402 Q398,1141.9 395.5,1137" stroke-width="2.50"/>
<path d="M341,1139.5 H394" stroke-width="1.25"/>
<path d="M315.9,1098.1 H418.6 M315.9,1117.3 H418.6 M367.5,1080 V1117.3" stroke-width="2.62"/>
<path d="M315.9,1076.5 H418.6" stroke-width="3.00"/>
<path d="M352,1077 Q360,1082 367.5,1082.5 Q375,1082 382,1077" stroke-width="2.00"/>
<path d="M242.3,1191.2 H297 Q306.2,1191.2 306.2,1181 V1160 Q306.2,1149.3 317,1149.3 H418 Q428.9,1149.3 428.9,1160 V1181 Q428.9,1191.2 438,1191.2 H492.6 V1195.0 H437 Q424.8,1195.0 424.8,1183 V1163 Q424.8,1153.4 415,1153.4 H320 Q310.3,1153.4 310.3,1163 V1183 Q310.3,1195.0 298,1195.0 H242.3 Z" stroke-width="2.62"/>
<path d="M308.2,1165 V1180 M426.9,1165 V1180" stroke-width="0.88" stroke-dasharray="3,2"/>
<path d="M336.5,1153.4 V1158.3 H397.8 V1153.4" stroke-width="2.75"/>
<path d="M347.1,1158.3 V1182 H387.2 V1158.3 M367.5,1158.3 V1182 M356.9,1182 L359.4,1185.3 H378.2 L380.6,1182" stroke-width="2.50"/>
</g>
<g stroke-width="1.75">
<line x1="218.7" y1="734.5" x2="218.7" y2="930"/>
<line x1="516" y1="734.5" x2="516" y2="930"/>
<line x1="218.7" y1="740.1" x2="516" y2="740.1" marker-start="url(#ar)" marker-end="url(#ar)"/>
<line x1="132.5" y1="778.5" x2="367" y2="778.5"/>
<line x1="176.8" y1="1074.4" x2="294" y2="1074.4"/>
<line x1="132.5" y1="1195.6" x2="243" y2="1195.6"/>
<line x1="136.5" y1="778.5" x2="136.5" y2="1195.6" marker-start="url(#ar)" marker-end="url(#ar)"/>
<line x1="181.1" y1="778.5" x2="181.1" y2="1074.4" marker-start="url(#ar)" marker-end="url(#ar)"/>
</g>
</g>
<g id="side" fill="none" stroke="#111" stroke-linejoin="round">
<g stroke-width="1.75">
<line x1="684.1" y1="746" x2="684.1" y2="1177"/>
<line x1="923.9" y1="746" x2="923.9" y2="788"/>
<line x1="684.1" y1="751.7" x2="923.9" y2="751.7" marker-start="url(#ar)" marker-end="url(#ar)"/>
</g>
<path d="M872,708.3 A136,136 0 0 1 947.2,737.5" stroke-width="2.50"/>
<path d="M974.2,766.1 A136,136 0 0 1 996.6,834" stroke-width="2.50"/>
<path d="M851.5,707.2 L874,700.5 L873,715 Z" fill="#111" stroke="#111" stroke-width="1.25"/>
<path d="M996.3,856.9 L989.5,834.5 L1003.5,834 Z" fill="#111" stroke="#111" stroke-width="1.25"/>
<path d="M792.4,784.7 Q840,780 883.3,777.5 L913.8,780.4 L923.3,788.4" stroke-width="2.88"/>
<path d="M923.7,788.4 V851 L915.3,854.5" stroke-width="3.75"/>
<path d="M914.5,997.8 L924,1002.2 V1061.8 L913.8,1072" stroke-width="3.75"/>
<path d="M913.8,1072 L884,1074.9" stroke-width="2.88"/>
<path d="M913.8,780.4 V1072" stroke-width="2.50"/>
<path d="M883.6,777.5 V1074.9" stroke-width="2.88"/>
<path d="M792.4,784.7 V1052" stroke-width="2.88"/>
<path d="M921.1,854 V1002" stroke-width="1.38"/>
<path d="M792.4,794.2 Q840,789 883.3,786.9 L913.8,790.5 L921,793" stroke-width="1.12"/>
<path d="M792.4,825.5 H921" stroke-width="1.12"/>
<path d="M770,1027 H921" stroke-width="1.12"/>
<path d="M798.9,1058.9 Q840,1062 881.8,1064.7 L913.8,1061.8 L920.4,1060.4" stroke-width="1.12"/>
<path d="M792.40,784.70 C789.73,785.70 781.35,788.00 776.40,790.70 C771.45,793.40 766.87,796.93 762.70,800.90 C758.53,804.87 754.80,809.57 751.40,814.50 C748.00,819.43 745.15,824.82 742.30,830.50 C739.45,836.18 736.10,844.60 734.30,848.60 C732.50,852.60 731.97,853.52 731.50,854.50" stroke-width="2.88"/>
<path d="M731.5,854.5 L728.7,860.7 L722.6,861.8" stroke-width="2.88"/>
<path d="M722.60,861.80 C721.93,864.52 719.83,870.70 718.60,878.10 C717.37,885.50 716.23,895.88 715.20,906.20 C714.17,916.52 713.05,927.80 712.40,940.00 C711.75,952.20 711.48,970.23 711.30,979.40 C711.12,988.57 711.30,992.40 711.30,995.00" stroke-width="2.88"/>
<path d="M792.40,791.50 C789.83,792.42 781.57,794.58 777.00,797.00 C772.43,799.42 768.33,803.00 765.00,806.00 C761.67,809.00 758.33,813.50 757.00,815.00" stroke-width="1.00"/>
<path d="M792.40,795.50 C790.00,796.42 782.23,798.75 778.00,801.00 C773.77,803.25 769.83,806.50 767.00,809.00 C764.17,811.50 762.00,814.83 761.00,816.00" stroke-width="1.00"/>
<path d="M792.40,826.00 C787.00,828.33 768.73,835.00 760.00,840.00 C751.27,845.00 744.93,850.40 740.00,856.00 C735.07,861.60 733.40,867.93 730.40,873.60 C727.40,879.27 723.40,887.27 722.00,890.00" stroke-width="1.00"/>
<path d="M792.40,838.50 C787.00,840.42 768.73,845.42 760.00,850.00 C751.27,854.58 745.33,861.00 740.00,866.00 C734.67,871.00 731.00,876.00 728.00,880.00 C725.00,884.00 723.00,888.33 722.00,890.00" stroke-width="1.00"/>
<path d="M728.00,862.00 C727.33,863.67 725.10,868.38 724.00,872.00 C722.90,875.62 722.15,874.03 721.40,883.70 C720.65,893.37 719.97,911.62 719.50,930.00 C719.03,948.38 718.75,983.33 718.60,994.00" stroke-width="1.00"/>
<path d="M730.40,873.60 C731.07,878.10 733.38,887.87 734.40,900.60 C735.42,913.33 735.75,933.50 736.50,950.00 C737.25,966.50 738.50,991.33 738.90,999.60" stroke-width="1.00"/>
<path d="M716,904.9 H734.5" stroke-width="1.00"/>
<path d="M756,816.5 Q742.5,832 735.6,852.5" stroke-width="7.12" stroke-linecap="round"/>
<path d="M762,817.5 Q751.5,834 746,852.5" stroke-width="4.50" stroke-linecap="round"/>
<path d="M761,820 Q751.5,834 747,849" stroke-width="0.62" stroke="#fff"/>
<path d="M711,979 H702.9 V1018.2 H711" stroke-width="2.50"/>
<path d="M711.30,995.00 C717.00,997.17 734.97,1002.20 745.50,1008.00 C756.03,1013.80 767.08,1023.13 774.50,1029.80 C781.92,1036.47 785.87,1042.67 790.00,1048.00 C794.13,1053.33 797.75,1059.50 799.30,1061.80" stroke-width="3.25"/>
<path d="M711.30,1006.50 C718.20,1009.17 741.92,1017.25 752.70,1022.50 C763.48,1027.75 769.95,1033.42 776.00,1038.00 C782.05,1042.58 786.83,1048.00 789.00,1050.00" stroke-width="2.75"/>
<path d="M799.3,1061.8 Q804,1066 801.5,1069 L780.4,1090.9 V1137 Q780,1144 775.9,1147" stroke-width="3.00"/>
<path d="M802,1066.3 L883.5,1071.4 M802,1075.8 L884,1074.8" stroke-width="2.75"/>
<path d="M832,1075 L884,1071.2 L884,1075.3 Z" fill="#111" stroke="none"/>
<path d="M822.4,1060.5 L842.7,1062.1" stroke-width="2.50"/>
<path d="M776.7,1061.8 L796.4,1068.4 L781.8,1080.7 Z" stroke-width="3.00"/>
<path d="M781,1066 L792,1069.5 L784,1076 Z" stroke-width="1.25"/>
<path d="M712,1078 Q716,1048 745,1048 Q774,1048 779.5,1092" stroke-width="3.00"/>
<path d="M711.3,1006.5 Q712,1040 709,1060 Q707.5,1080 709,1100 Q710,1120 708.8,1137 Q709.5,1144 713.2,1147" stroke-width="3.00"/>
<path d="M721.5,1080.7 L732.4,1061.1 L756.4,1061.1 L766.5,1080.7 L756.4,1101.1 L732.4,1101.1 Z" stroke-width="3.25"/>
<path d="M698,1080.7 H790.5 M744,1035 V1128.5" stroke-width="1.00" stroke-dasharray="16,3,2,3"/>
<path d="M707.8,1130.5 H703.6 V1147 M781,1130.5 H785.5 V1147" stroke-width="2.25"/>
<path d="M706.5,1134 Q707,1142 711,1146 M782.5,1134 Q782,1142 778,1146" stroke-width="1.00"/>
<path d="M709,1133.3 H780" stroke-width="1.12"/>
<path d="M703.5,1147.5 H786.4 V1161 C786.4,1170 806,1174 806,1186 V1196.9 H683.8 V1186 C683.8,1174 703.5,1170 703.5,1161 Z" stroke-width="3.00"/>
<path d="M703.5,1161 H786.4 M686,1182.4 H804" stroke-width="1.12"/>
<path d="M683.8,1190.4 H806" stroke-width="2.50"/>
</g>
<g class="t"><text transform="translate(749.3,206.2) scale(1.000,1.080)" font-size="24.0" text-anchor="middle">40</text>
<text transform="translate(749.0,248.3) scale(1.000,1.080)" font-size="24.0" text-anchor="middle">27</text>
<text transform="translate(545.3,425.5) rotate(-90.0) scale(1.000,1.080)" font-size="24.0" text-anchor="middle">83</text>
<text transform="translate(588.9,425.5) rotate(-90.0) scale(1.000,1.080)" font-size="24.0" text-anchor="middle">67</text>
<text transform="translate(635.5,425.5) rotate(-90.0) scale(1.000,1.080)" font-size="24.0" text-anchor="middle">38</text>
<text transform="translate(647.6,263.4) rotate(37.0) scale(1.000,1.080)" font-size="24.0" text-anchor="middle">Ø6,5</text>
<text transform="translate(929.8,378.2) rotate(-12.0) scale(1.050,1.080)" font-size="24.0" text-anchor="start">R83</text>
<text transform="translate(978.5,430.3) scale(1.070,1.080)" font-size="19.0" text-anchor="start">360°</text>
<text transform="translate(497.5,586.4)" font-size="22.5" text-anchor="start" textLength="141" lengthAdjust="spacingAndGlyphs">for M6 screw</text>
<text transform="translate(367.3,730.7) scale(1.000,1.080)" font-size="24.0" text-anchor="middle">100</text>
<text transform="translate(127.3,987.2) rotate(-90.0) scale(1.000,1.080)" font-size="24.0" text-anchor="middle">140</text>
<text transform="translate(174.0,926.5) rotate(-90.0) scale(1.000,1.080)" font-size="24.0" text-anchor="middle">100</text>
<text transform="translate(803.6,741.6) scale(1.000,1.080)" font-size="24.0" text-anchor="middle">80</text>
<text transform="translate(942.3,759.5) scale(1.050,1.080)" font-size="19.5" text-anchor="start">155°</text></g>
</svg>
</body></html>
